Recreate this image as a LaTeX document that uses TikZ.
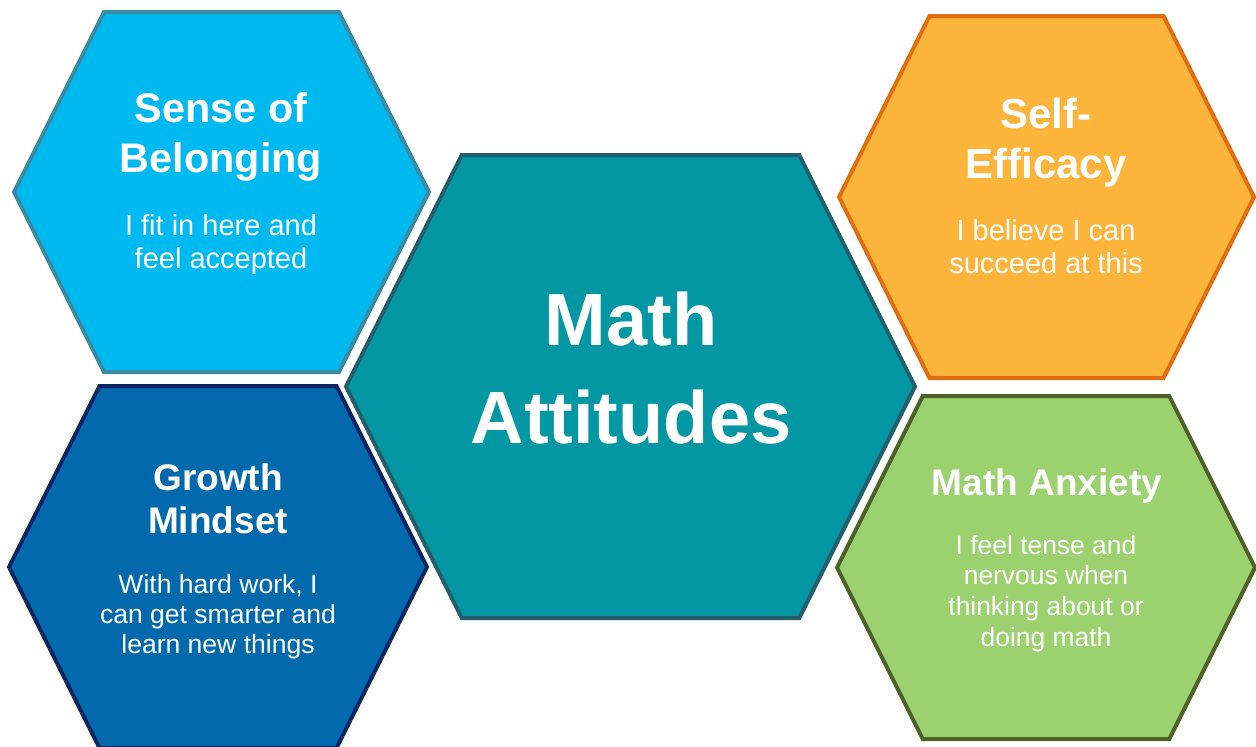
\documentclass[tikz,border=0pt]{standalone}
\usepackage{fontspec}
\setmainfont{Liberation Sans}
\usepackage{tikz}

\definecolor{belongfill}{HTML}{00B9F1}
\definecolor{belongline}{HTML}{3A8AA3}
\definecolor{growfill}{HTML}{0169AC}
\definecolor{growline}{HTML}{0D2463}
\definecolor{mathfill}{HTML}{0396A3}
\definecolor{mathline}{HTML}{225E6C}
\definecolor{efffill}{HTML}{FDB43B}
\definecolor{effline}{HTML}{E36C0C}
\definecolor{anxfill}{HTML}{9CD16F}
\definecolor{anxline}{HTML}{506128}

% hexagon from its box: left, top, right, bottom, style
\newcommand{\drawhex}[5]{%
  \filldraw[#5] (#1,{(#2+#4)/2}) -- ({#1+0.25*(#4-#2)},#2) -- ({#3-0.25*(#4-#2)},#2)
    -- (#3,{(#2+#4)/2}) -- ({#3-0.25*(#4-#2)},#4) -- ({#1+0.25*(#4-#2)},#4) -- cycle;}

\tikzset{
  hexcell/.style={line width=3pt, line join=miter},
  headtext/.style={text=white, align=center, anchor=base, inner sep=0pt},
  bodytext/.style={text=white, align=center, anchor=base, inner sep=0pt},
}

\begin{document}
\begin{tikzpicture}[x=0.75pt, y=-0.75pt]
  \useasboundingbox (0,0) rectangle (1256,746);

  % Hexagons
  \drawhex{14}{12}{429}{372}{hexcell, fill=belongfill, draw=belongline}
  \drawhex{9}{386}{427}{748}{hexcell, fill=growfill, draw=growline}
  \drawhex{346}{155}{915}{618}{hexcell, fill=mathfill, draw=mathline}
  \drawhex{839}{16}{1254}{378}{hexcell, fill=efffill, draw=effline}
  \drawhex{837}{396}{1255}{739}{hexcell, fill=anxfill, draw=anxline}

  % Titles (placed at the baseline of their last line)
  \node[headtext, font=\fontsize{31}{37.5}\selectfont\bfseries] (belongTitle) at (221,172) {Sense of\\Belonging};
  \node[headtext, font=\fontsize{27.75}{32.25}\selectfont\bfseries] (growTitle) at (218,533) {Growth\\Mindset};
  \node[headtext, font=\fontsize{55.5}{73.5}\selectfont\bfseries] (mathTitle) at (631,443) {Math\\Attitudes};
  \node[headtext, font=\fontsize{31.5}{37.5}\selectfont\bfseries] (effTitle) at (1046,178) {Self-\\Efficacy};
  \node[headtext, font=\fontsize{27.75}{32.25}\selectfont\bfseries] (anxTitle) at (1047,495) {Math Anxiety};

  % Descriptions
  \node[bodytext, font=\fontsize{21.75}{24.75}\selectfont] (belongText) at (221,268) {I fit in here and\\feel accepted};
  \node[bodytext, font=\fontsize{19.9}{22.5}\selectfont] (growText) at (218,653) {With hard work, I\\can get smarter and\\learn new things};
  \node[bodytext, font=\fontsize{21.75}{24.75}\selectfont] (effText) at (1046,273) {I believe I can\\succeed at this};
  \node[bodytext, font=\fontsize{19.8}{23}\selectfont] (anxText) at (1046,646) {I feel tense and\\nervous when\\thinking about or\\doing math};
\end{tikzpicture}
\end{document}
